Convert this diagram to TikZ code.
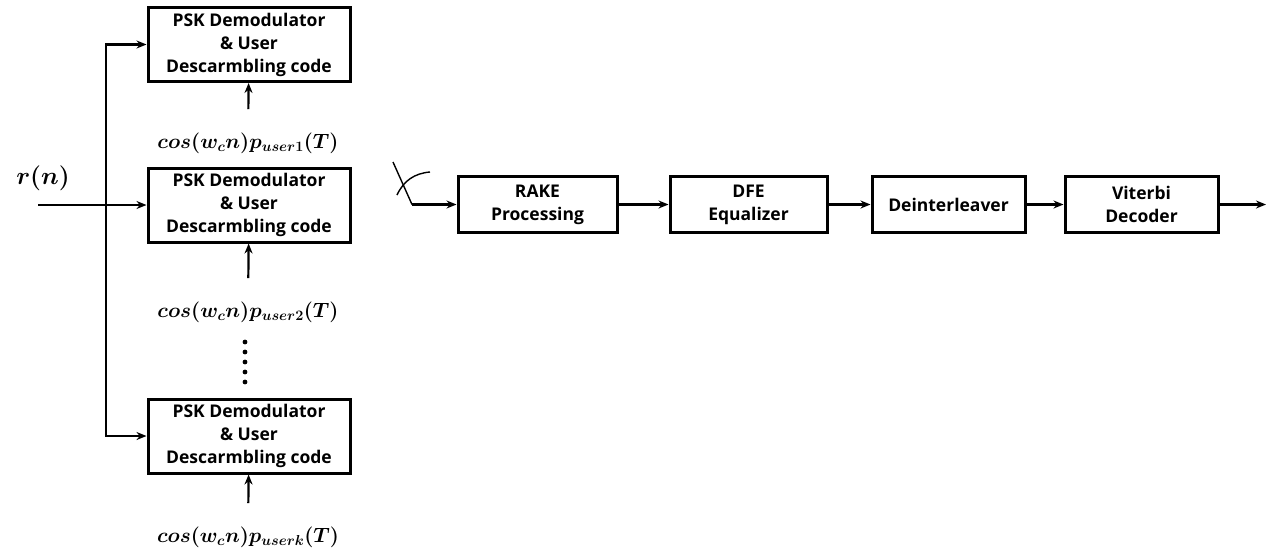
\documentclass[tikz,border=0pt]{standalone}
\usepackage{amsmath,amssymb,bm}
\usepackage{fontspec}
\setmainfont{Open Sans}
\usetikzlibrary{calc,arrows,arrows.meta}

\tikzset{
  blk/.style={draw,line width=3pt,align=center,inner sep=0pt,
    font=\fontsize{17.5}{23}\selectfont\bfseries},
  psk/.style={blk,minimum width=202pt,minimum height=74pt},
  chain/.style={blk,minimum height=56pt},
  arr/.style={line width=2.2pt,-{Stealth[length=10pt,width=8pt]}},
  lbl/.style={font=\fontsize{21}{24}\selectfont}
}

\begin{document}
\begin{tikzpicture}[x=1pt,y=-1pt]
  \useasboundingbox (0,0) rectangle (1268,552);
  % demodulator branches
  \node[psk] (psk1) at (249,44.5) {PSK Demodulator\\ \& User\\ Descarmbling code};
  \node[psk] (psk2) at (249,205) {PSK Demodulator\\ \& User\\ Descarmbling code};
  \node[psk] (psk3) at (249,436) {PSK Demodulator\\ \& User\\ Descarmbling code};
  \node[lbl] (c1) at (248,143) {$\bm{cos(w_c n)p_{user1}(T)}$};
  \node[lbl] (c2) at (248,312) {$\bm{cos(w_c n)p_{user2}(T)}$};
  \node[lbl] (c3) at (248,537) {$\bm{cos(w_c n)p_{userk}(T)}$};
  \draw[arr,shorten <=20pt] (c1) -- (psk1);
  \draw[arr,shorten <=20pt] (c2) -- (psk2);
  \draw[arr,shorten <=20pt] (c3) -- (psk3);
  \foreach \i in {0,...,4}
    \fill (245,342+\i*10) circle (2.4pt);
  % input
  \node[font=\fontsize{32}{34}\selectfont] (rn) at (43,178) {$\bm{r(n)}$};
  \coordinate (in) at (38,205);
  \coordinate (bus) at (106,205);
  \draw[arr] (in) -- (psk2.west);
  \draw[arr] (bus) |- (psk1.west);
  \draw[arr] (bus) |- (psk3.west);
  % receiver chain
  \node[chain,minimum width=159pt] (rake) at (537.5,204.5) {RAKE\\ Processing};
  \node[chain,minimum width=157pt] (dfe) at (748.5,204.5) {DFE\\ Equalizer};
  \node[chain,minimum width=153pt] (deint) at (948.5,204.5) {Deinterleaver};
  \node[chain,minimum width=153pt] (vit) at (1141.5,204.5) {Viterbi\\ Decoder};
  \coordinate (sw) at (393,162);
  \coordinate (ant) at (412,204.5);
  \coordinate (out) at (1266,204.5);
  \draw[line width=1.4pt] (397,195) to[out=65,in=185] (430,172);
  \draw[line width=1.4pt] (sw) -- (ant);
  \draw[arr] (ant) -- (rake.west);
  \draw[arr] (rake) -- (dfe);
  \draw[arr] (dfe) -- (deint);
  \draw[arr] (deint) -- (vit);
  \draw[arr] (vit) -- (out);
\end{tikzpicture}
\end{document}
